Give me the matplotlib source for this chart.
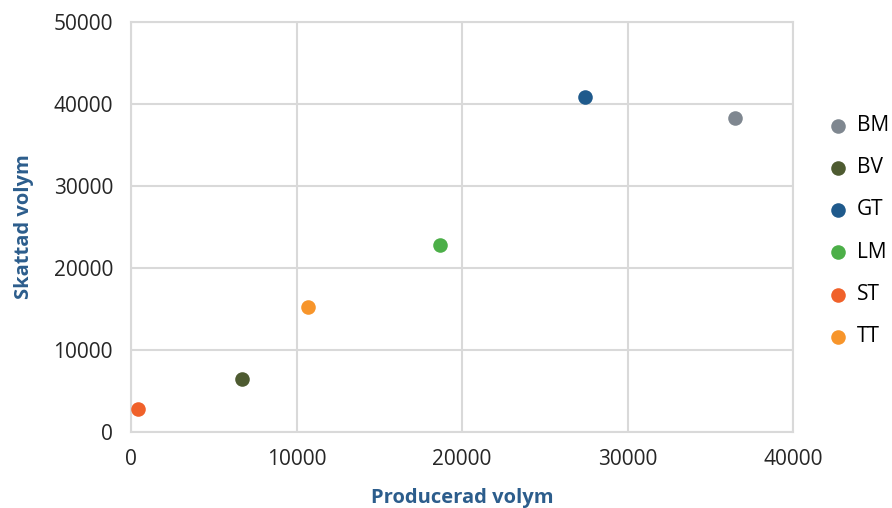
import matplotlib.pyplot as plt

plt.rcParams['font.family'] = ['Open Sans', 'DejaVu Sans']

names = ['BM', 'BV', 'GT', 'LM', 'ST', 'TT']
produced = [36500, 6700, 27450, 18650, 400, 10700]
estimated = [38300, 6450, 40850, 22750, 2750, 15300]
colors = ['#7F8790', '#4E5B31', '#1F5A8C', '#4CAF48', '#F0612A', '#F7952B']

fig = plt.figure(figsize=(8.92, 5.08), dpi=100)
ax = fig.add_axes([0.1469, 0.1496, 0.7422, 0.8071])

for n, x, y, c in zip(names, produced, estimated, colors):
    ax.scatter(x, y, s=110, color=c, label=n, zorder=3, linewidths=0)

ax.set_xlim(0, 40000)
ax.set_ylim(0, 50000)
ax.set_xticks(range(0, 40001, 10000))
ax.set_yticks(range(0, 50001, 10000))
ax.grid(True, color='#D9D9D9', linewidth=1.5)
ax.set_axisbelow(True)
for s in ax.spines.values():
    s.set_color('#D9D9D9')
    s.set_linewidth(1.5)
ax.tick_params(length=0, labelsize=15, colors='#262626')
ax.tick_params(axis='y', pad=13)
ax.tick_params(axis='x', pad=12)

lab_color = '#2C5D8C'
ax.set_xlabel('Producerad volym', fontsize=14.5, fontweight='bold', color=lab_color, labelpad=13)
ax.set_ylabel('Skattad volym', fontsize=14.5, fontweight='bold', color=lab_color, labelpad=14)

ax.legend(loc='center left', bbox_to_anchor=(1.024, 0.49), frameon=False, fontsize=15,
          labelspacing=1.02, handlelength=1.0, handletextpad=0.4, markerscale=1.0)

fig.savefig('out.png', dpi=100)
